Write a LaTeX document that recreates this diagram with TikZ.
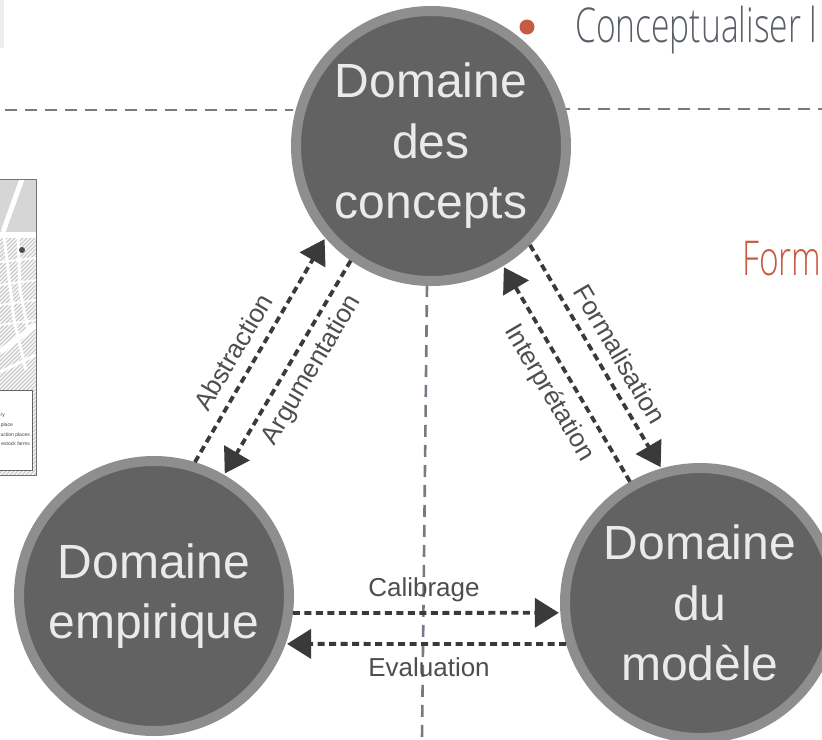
\documentclass[tikz,border=0pt]{standalone}
\usepackage{fontspec}
\setmainfont{Liberation Sans}
\newfontfamily\condfont[FakeStretch=0.7]{Open Sans Light}
\usetikzlibrary{arrows.meta}
\definecolor{ringc}{HTML}{8E8E8E}
\definecolor{discc}{HTML}{626262}
\definecolor{txtc}{HTML}{EAEAEA}
\definecolor{linkc}{HTML}{3A3A3A}
\definecolor{slatec}{HTML}{757A85}
\definecolor{redc}{HTML}{C85A42}
\definecolor{headc}{HTML}{5A5F68}
\tikzset{
  x=1pt,y=-1pt,
  domainbox/.style={circle,draw=ringc,fill=discc,line width=10pt,minimum size=270pt,inner sep=0pt,outer sep=5pt,
    text=txtc,align=center,font=\fontsize{48}{60.5}\selectfont},
  link/.style={draw=linkc,line width=3.8pt,dash pattern=on 7pt off 4.5pt,shorten >=1.5pt,
    -{Triangle[length=24pt,width=29pt,color=linkc,sep=0pt]}},
  guide/.style={draw=slatec,line width=2.6pt,dash pattern=on 12pt off 8pt},
  lab/.style={text=linkc!90!white,font=\fontsize{26}{26}\selectfont,inner sep=0pt},
  maptxt/.style={font=\fontsize{5}{5}\selectfont,text=black!75,inner sep=0pt,anchor=east},
  hd/.style={font=\fontsize{48}{48}\condfont,inner sep=0pt,anchor=base west}
}
\begin{document}
\begin{tikzpicture}
\useasboundingbox (0,0) rectangle (822,739);
\clip (0,0) rectangle (822,739);
\fill[white] (0,0) rectangle (822,739);
\fill[black!7] (0,0) rectangle (4,48);
% map fragment
\begin{scope}
\clip (0,179) rectangle (36,475);
\fill[white] (0,179) rectangle (36,475);
\foreach \k in {0,4,...,340}{
  \draw[black!22,line width=1.2pt] (-5,238+\k) -- (41,192+\k);
}
\fill[black!16] (0,179) rectangle (36,232);
\draw[white,line width=5pt] (22,179) -- (3,232);
\draw[white,line width=6pt] (0,235) -- (36,235);
\draw[white,line width=3pt] (4,235) -- (14,320) -- (26,370);
\draw[white,line width=3pt] (18,235) -- (20,290) -- (28,330);
\draw[white,line width=2pt] (0,262) -- (36,258);
\draw[white,line width=2pt] (0,285) -- (36,280);
\draw[white,line width=2pt] (0,305) -- (36,300);
\draw[white,line width=2pt] (0,325) -- (36,320);
\draw[white,line width=6pt] (0,352) -- (36,325);
\draw[white,line width=3pt] (0,372) -- (36,355);
\fill[black!70] (22,250) circle (3);
\end{scope}
\draw[black!55,line width=.8pt] (0,179) -- (36,179) -- (36,475) -- (0,475);
\draw[black!60,fill=white,line width=.7pt] (0,390) -- (32,390) -- (32,470) -- (0,470);
\node[maptxt] at (5,416) {ry};
\node[maptxt] at (13,425) {place};
\node[maptxt] at (30,435) {uction places};
\node[maptxt] at (30,444) {estock farms};
% heading fragments
\fill[redc] (527,27) circle (7.5);
\node[hd,text=headc] (h1) at (575,42) {Conceptualiser l};
\node[hd,text=redc] (h2) at (742,275) {Form};
% guides
\coordinate (gl) at (5,110);
\coordinate (gla) at (293,110);
\coordinate (gr) at (558,109);
\coordinate (gra) at (822,109);
\coordinate (gv) at (427,285);
\coordinate (gvb) at (422,739);
\draw[guide] (gl) -- (gla);
\draw[guide] (gr) -- (gra);
\draw[guide] (gv) -- (gvb);
% domains
\node[domainbox] (concepts) at (431,146) {Domaine\\des\\concepts};
\node[domainbox] (empirique) at (154,596) {Domaine\\empirique};
\node[domainbox] (modele) at (700,603) {Domaine\\du\\modèle};
% links
\draw[link] (empirique.73.7) -- (concepts.221);
\draw[link] (concepts.235) -- (empirique.60);
\draw[link] (concepts.-45.3) -- (modele.106.3);
\draw[link] (modele.120.8) -- (concepts.-59.7);
\draw[link] (empirique.-7.4) -- (modele.184);
\draw[link] (modele.197.5) -- (empirique.-20.6);
% labels
\node[lab,rotate=59.5] (labA) at (233,352) {Abstraction};
\node[lab,rotate=59.5] (labB) at (312,370) {Argumentation};
\node[lab,rotate=-59.5] (labC) at (620,354) {Formalisation};
\node[lab,rotate=-59.5] (labD) at (549,393) {Interprétation};
\node[lab] (labE) at (424,590) {Calibrage};
\node[lab] (labF) at (429,667) {Evaluation};
\end{tikzpicture}
\end{document}
